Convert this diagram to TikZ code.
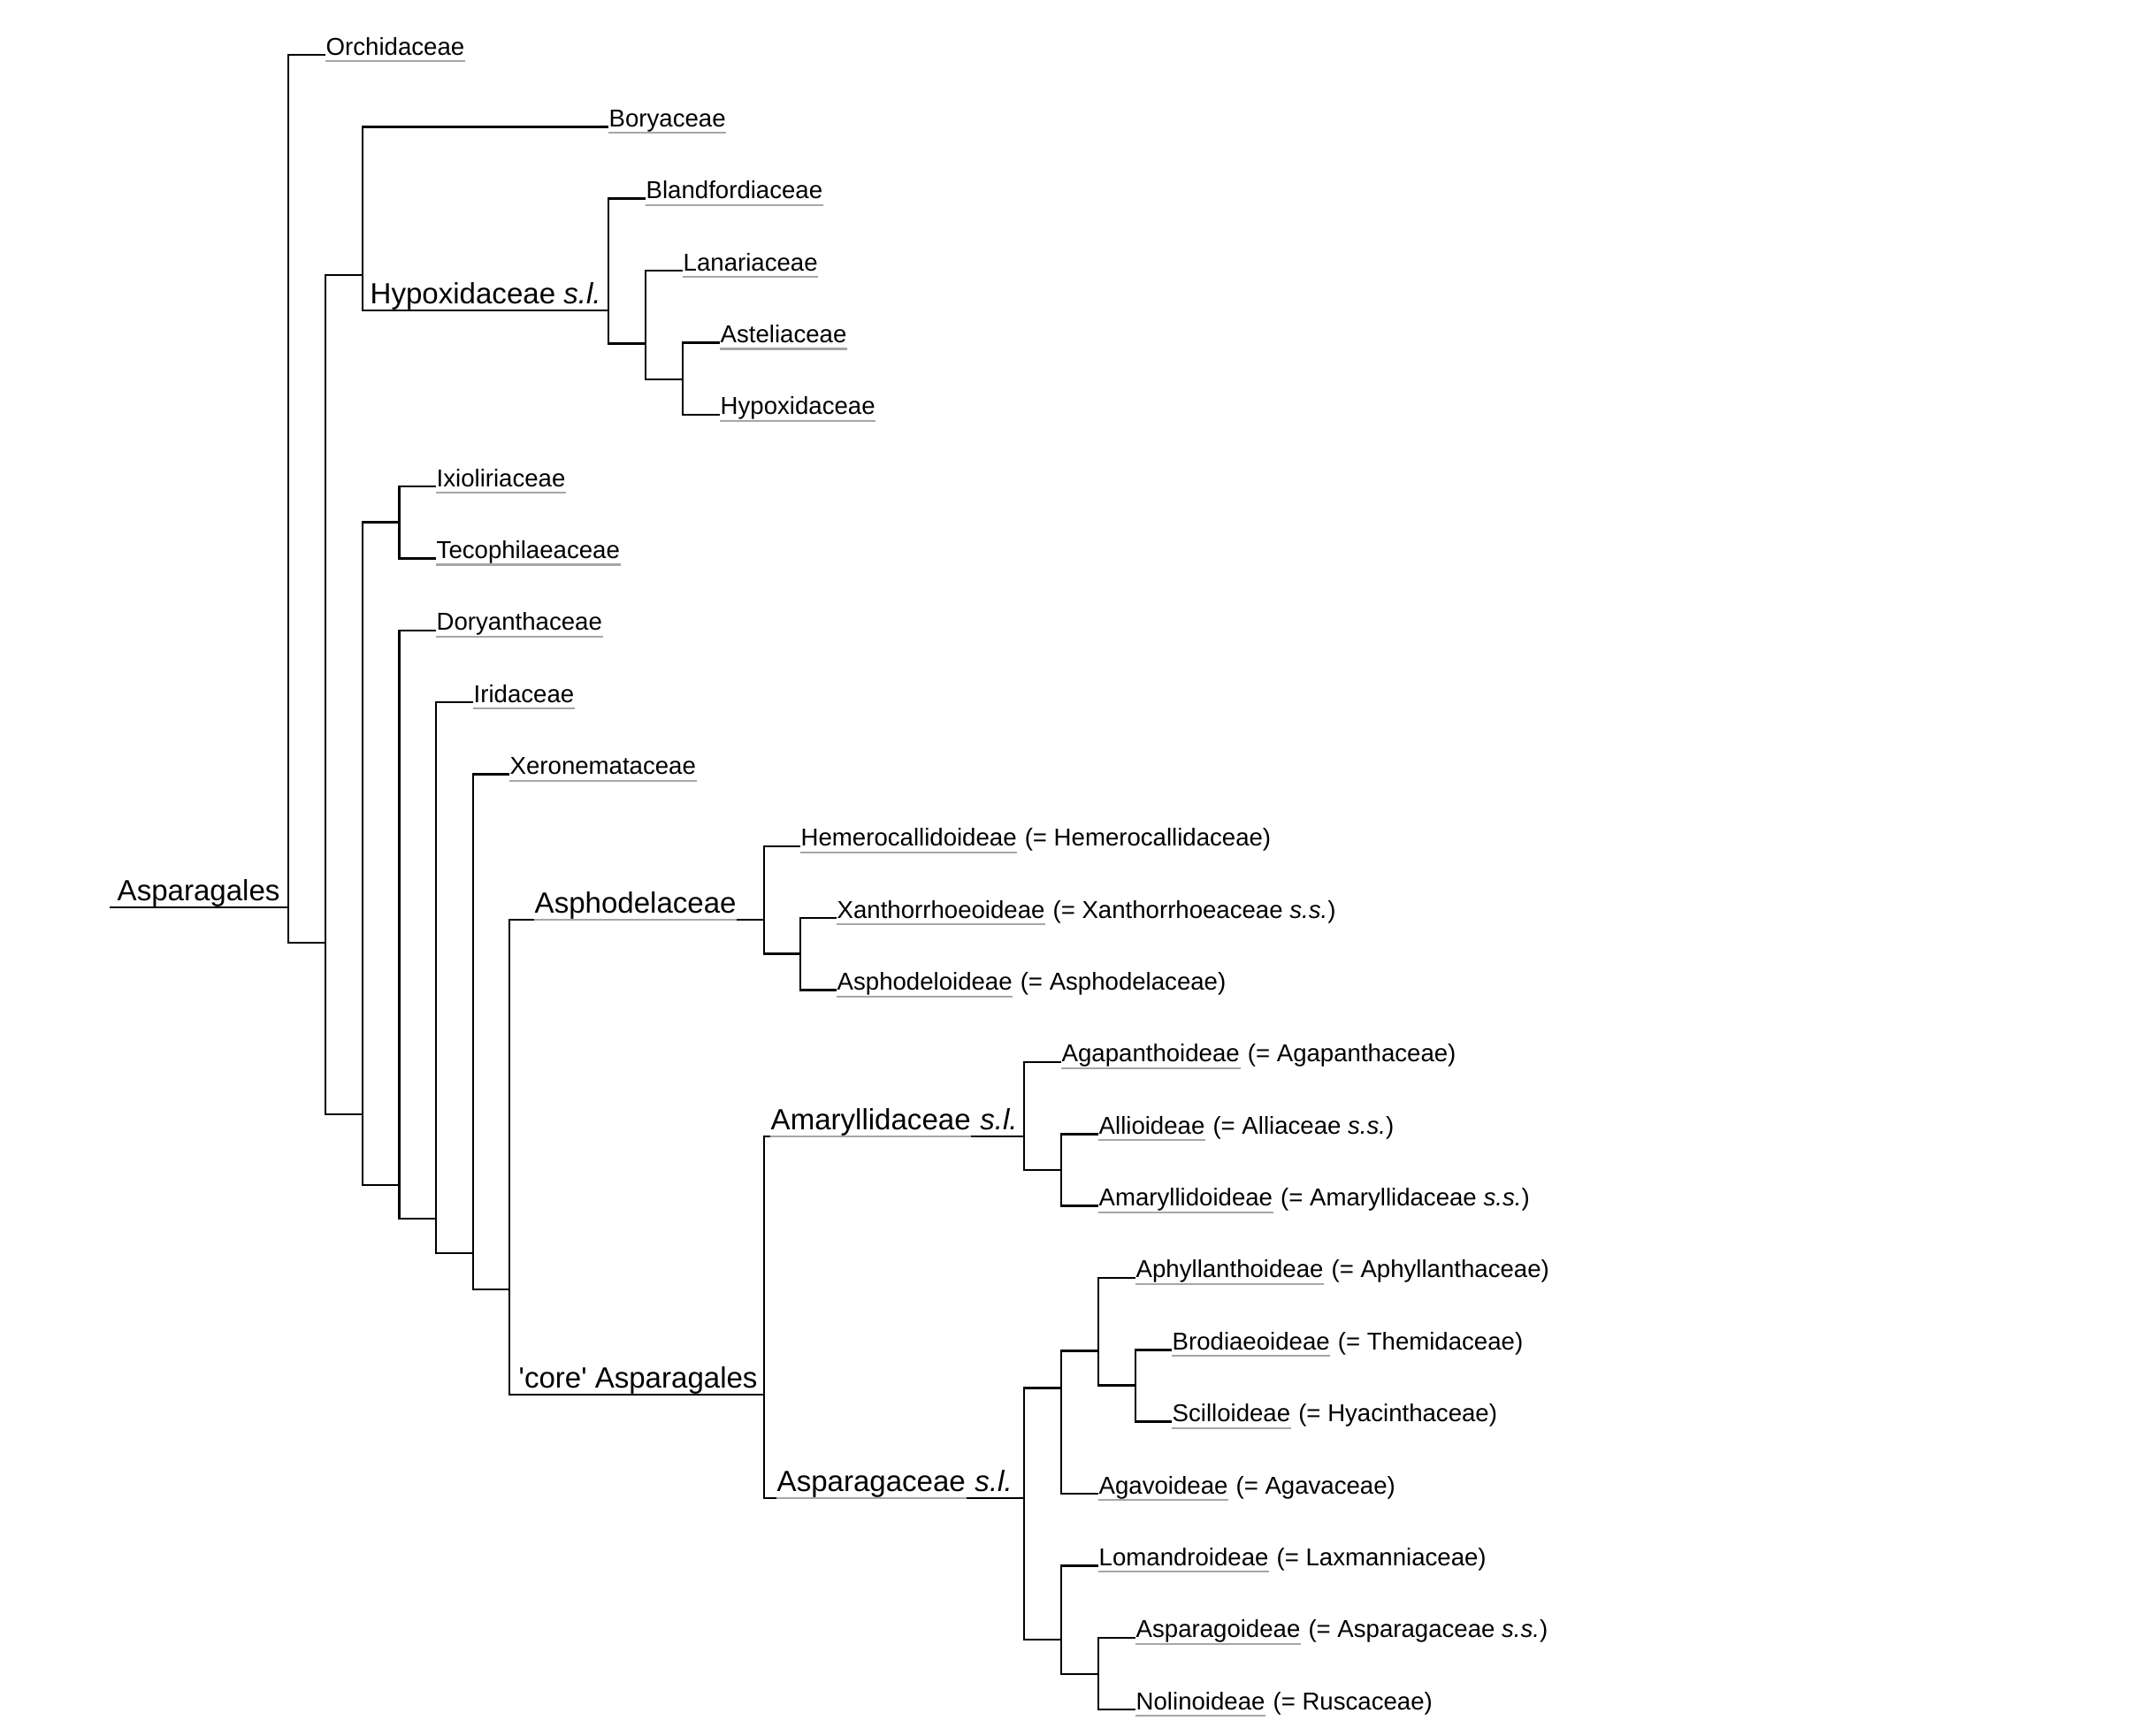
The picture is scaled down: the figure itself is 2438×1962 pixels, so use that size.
\documentclass[tikz,border=0pt]{standalone}
\usepackage{fontspec}
\setmainfont{Liberation Sans}[Ligatures=TeXOff]
\newcommand{\leaffont}{\fontsize{7.85}{9}\selectfont}
\newcommand{\cladefont}{\fontsize{9.4}{11}\selectfont}
\newcommand{\greyline}[1]{\draw[greyrule] ([yshift=-2pt]#1.base west) -- ([yshift=-2pt]#1.base east);}
\tikzset{
  branch/.style={line width=0.7pt},
  leaf/.style={anchor=base west,inner sep=0pt,font=\leaffont},
  clade/.style={anchor=base west,inner sep=0pt,font=\cladefont},
  greyrule/.style={draw=black!35,line width=0.6pt},
}

\begin{document}
\begin{tikzpicture}[x=0.01cm,y=-0.01cm]
  \useasboundingbox (0,0) rectangle (2438,1962);
  \coordinate (root) at (124,1026);
  \coordinate (n0) at (326,1026);
  \coordinate (n1) at (368,1066);
  \coordinate (nA) at (410,311);
  \coordinate (nhyp) at (688,351);
  \coordinate (nlan) at (730,388.5);
  \coordinate (nast) at (772,429);
  \coordinate (nB) at (410,1260);
  \coordinate (nixi) at (451.7,590.5);
  \coordinate (ndor) at (451.7,1340);
  \coordinate (nidi) at (493,1378);
  \coordinate (nxer) at (535,1417);
  \coordinate (n6) at (576,1458);
  \coordinate (nasph) at (864,1040);
  \coordinate (nxan) at (905,1078.5);
  \coordinate (ncore) at (864,1577);
  \coordinate (namar) at (1158,1285);
  \coordinate (nalli) at (1200,1323);
  \coordinate (naspa) at (1158,1694);
  \coordinate (nagav) at (1200,1569.5);
  \coordinate (naphy) at (1242,1527.6);
  \coordinate (nbrod) at (1284,1566.5);
  \coordinate (nlom) at (1200,1854);
  \coordinate (nasg) at (1242,1893);

  \node[leaf] (orch) at (368,62) {Orchidaceae};
  \node[leaf] (bory) at (688,143.35) {Boryaceae};
  \node[leaf] (blan) at (730,224.7) {Blandfordiaceae};
  \node[leaf] (lana) at (772,306) {Lanariaceae};
  \node[leaf] (aste) at (814,387.4) {Asteliaceae};
  \node[leaf] (hypo) at (814,468.75) {Hypoxidaceae};
  \node[leaf] (ixio) at (493,550.1) {Ixioliriaceae};
  \node[leaf] (teco) at (493,631.45) {Tecophilaeaceae};
  \node[leaf] (dory) at (493,712.8) {Doryanthaceae};
  \node[leaf] (irid) at (535,794.15) {Iridaceae};
  \node[leaf] (xero) at (576,875.5) {Xeronemataceae};
  \node[leaf] (heme) at (905,956.85) {Hemerocallidoideae};
  \node[leaf] (xant) at (946,1038.2) {Xanthorrhoeoideae};
  \node[leaf] (asph) at (946,1119.55) {Asphodeloideae};
  \node[leaf] (agap) at (1200,1200.9) {Agapanthoideae};
  \node[leaf] (alli) at (1242,1282.25) {Allioideae};
  \node[leaf] (amar) at (1242,1363.6) {Amaryllidoideae};
  \node[leaf] (aphy) at (1284,1444.95) {Aphyllanthoideae};
  \node[leaf] (brod) at (1325,1526.3) {Brodiaeoideae};
  \node[leaf] (scil) at (1325,1607.65) {Scilloideae};
  \node[leaf] (agav) at (1242,1689) {Agavoideae};
  \node[leaf] (loma) at (1242,1770.35) {Lomandroideae};
  \node[leaf] (aspa) at (1284,1851.7) {Asparagoideae};
  \node[leaf] (noli) at (1284,1933) {Nolinoideae};

  \node[leaf] (heme-s) at (heme.base east) {\ (= Hemerocallidaceae)};
  \node[leaf] (xant-s) at (xant.base east) {\ (= Xanthorrhoeaceae \textit{s.s.})};
  \node[leaf] (asph-s) at (asph.base east) {\ (= Asphodelaceae)};
  \node[leaf] (agap-s) at (agap.base east) {\ (= Agapanthaceae)};
  \node[leaf] (alli-s) at (alli.base east) {\ (= Alliaceae \textit{s.s.})};
  \node[leaf] (amar-s) at (amar.base east) {\ (= Amaryllidaceae \textit{s.s.})};
  \node[leaf] (aphy-s) at (aphy.base east) {\ (= Aphyllanthaceae)};
  \node[leaf] (brod-s) at (brod.base east) {\ (= Themidaceae)};
  \node[leaf] (scil-s) at (scil.base east) {\ (= Hyacinthaceae)};
  \node[leaf] (agav-s) at (agav.base east) {\ (= Agavaceae)};
  \node[leaf] (loma-s) at (loma.base east) {\ (= Laxmanniaceae)};
  \node[leaf] (aspa-s) at (aspa.base east) {\ (= Asparagaceae \textit{s.s.})};
  \node[leaf] (noli-s) at (noli.base east) {\ (= Ruscaceae)};

  \node[clade] (asparagales) at (132,1018) {Asparagales};
  \node[clade] (hypsl) at (418,343) {Hypoxidaceae \textit{s.l.}};
  \node[clade] (asphlbl) at (604,1032) {Asphodelaceae};
  \node[clade] (corelbl) at (586,1569) {'core' Asparagales};
  \node[clade] (amarlbl) at (871,1277) {Amaryllidaceae};
  \node[clade] (amarsl) at (amarlbl.base east) {\ \textit{s.l.}};
  \node[clade] (asplbl) at (878,1686) {Asparagaceae};
  \node[clade] (aspsl) at (asplbl.base east) {\ \textit{s.l.}};

  \draw[branch] (root) -- (n0);
  \draw[branch] (n0) |- (orch.base west) (n0) |- (n1);
  \draw[branch] (n1) |- (nA) (n1) |- (nB);
  \draw[branch] (nA) |- (bory.base west) (nA) |- (nhyp);
  \draw[branch] (nhyp) |- (blan.base west) (nhyp) |- (nlan);
  \draw[branch] (nlan) |- (lana.base west) (nlan) |- (nast);
  \draw[branch] (nast) |- (aste.base west) (nast) |- (hypo.base west);
  \draw[branch] (nB) |- (nixi) (nB) |- (ndor);
  \draw[branch] (nixi) |- (ixio.base west) (nixi) |- (teco.base west);
  \draw[branch] (ndor) |- (dory.base west) (ndor) |- (nidi);
  \draw[branch] (nidi) |- (irid.base west) (nidi) |- (nxer);
  \draw[branch] (nxer) |- (xero.base west) (nxer) |- (n6);
  \draw[branch] (n6) |- (nasph) (n6) |- (ncore);
  \draw[branch] (nasph) |- (heme.base west) (nasph) |- (nxan);
  \draw[branch] (nxan) |- (xant.base west) (nxan) |- (asph.base west);
  \draw[branch] (ncore) |- (namar) (ncore) |- (naspa);
  \draw[branch] (namar) |- (agap.base west) (namar) |- (nalli);
  \draw[branch] (nalli) |- (alli.base west) (nalli) |- (amar.base west);
  \draw[branch] (naspa) |- (nagav) (naspa) |- (nlom);
  \draw[branch] (nagav) |- (naphy) (nagav) |- (agav.base west);
  \draw[branch] (naphy) |- (aphy.base west) (naphy) |- (nbrod);
  \draw[branch] (nbrod) |- (brod.base west) (nbrod) |- (scil.base west);
  \draw[branch] (nlom) |- (loma.base west) (nlom) |- (nasg);
  \draw[branch] (nasg) |- (aspa.base west) (nasg) |- (noli.base west);

  \greyline{orch} \greyline{bory} \greyline{blan} \greyline{lana}
  \greyline{aste} \greyline{hypo} \greyline{ixio} \greyline{teco}
  \greyline{dory} \greyline{irid} \greyline{xero} \greyline{heme}
  \greyline{xant} \greyline{asph} \greyline{agap} \greyline{alli}
  \greyline{amar} \greyline{aphy} \greyline{brod} \greyline{scil}
  \greyline{agav} \greyline{loma} \greyline{aspa} \greyline{noli}
  \draw[greyrule,line width=0.7pt] (asphlbl.base west |- nasph) -- (asphlbl.base east |- nasph);
  \draw[greyrule,line width=0.7pt] (amarlbl.base west |- namar) -- (amarlbl.base east |- namar);
  \draw[greyrule,line width=0.7pt] (asplbl.base west |- naspa) -- (asplbl.base east |- naspa);
\end{tikzpicture}
\end{document}
